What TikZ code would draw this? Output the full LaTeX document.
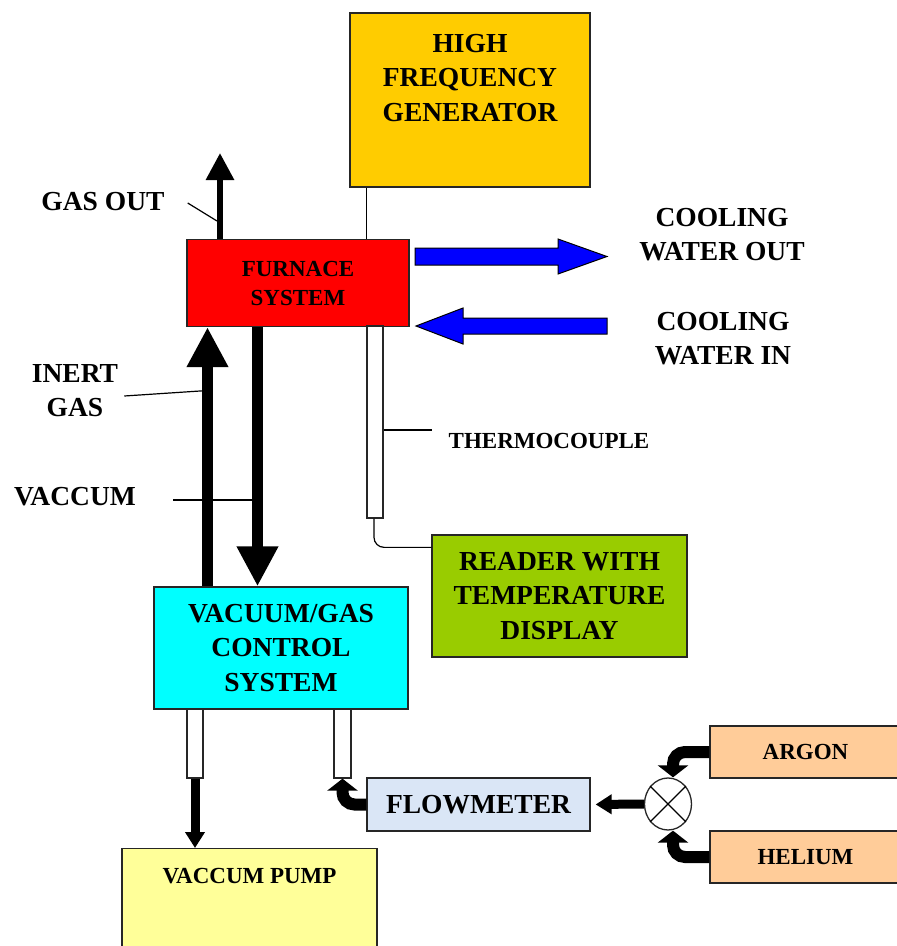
\documentclass[tikz,border=0pt]{standalone}
\usepackage{fontspec}
\setmainfont{Liberation Serif}
\usetikzlibrary{arrows.meta,shapes.geometric}

\definecolor{genyellow}{HTML}{FFCC00}
\definecolor{furnred}{HTML}{FF0000}
\definecolor{readgreen}{HTML}{99CC00}
\definecolor{vaccyan}{HTML}{00FFFF}
\definecolor{flowblue}{HTML}{DAE6F6}
\definecolor{gaspeach}{HTML}{FFCC99}
\definecolor{pumpyellow}{HTML}{FFFF99}
\definecolor{coolblue}{HTML}{0000FF}

\newcommand{\LabelBig}{\bfseries\fontsize{27.5}{34.5}\selectfont}
\newcommand{\LabelSmall}{\bfseries\fontsize{23}{29}\selectfont}

\begin{document}
\begin{tikzpicture}[x=1pt, y=-1pt,
  box/.style={draw=black!85, line width=1.3pt, inner sep=0pt},
  bigtxt/.style={font=\LabelBig, align=center, inner sep=0pt},
  smalltxt/.style={font=\LabelSmall, align=center, inner sep=0pt},
  pipe/.style={draw=black!85, line width=1.3pt, fill=white, inner sep=0pt},
  leader/.style={line width=1.2pt},
  fatarrow/.style={line width=11pt, -{Triangle[width=39pt,length=40pt]}},
  ventarrow/.style={line width=6pt, -{Triangle[width=27pt,length=27pt]}},
  feedarrow/.style={line width=12pt, rounded corners=12pt, -{Triangle[width=30pt,length=12pt]}},
  pipearrow/.style={line width=9pt, -{Triangle[width=19pt,length=16pt]}},
  coolarrow/.style={fill=coolblue, draw=black, line width=1pt}]

\useasboundingbox (0,0) rectangle (897,946);
\clip (0,0) rectangle (897,946);

% boxes
\node[box, fill=genyellow, minimum width=240, minimum height=174] (gen) at (470,100) {};
\node[bigtxt] (gentext) at (470,78) {HIGH\\FREQUENCY\\GENERATOR};
\node[box, smalltxt, fill=furnred, minimum width=222, minimum height=87] (furnace) at (298,283) {FURNACE\\SYSTEM};
\node[pipe, minimum width=16, minimum height=192] (tc) at (375,422) {};
\node[box, bigtxt, fill=readgreen, minimum width=255, minimum height=122] (reader) at (559.5,596) {READER WITH\\TEMPERATURE\\DISPLAY};
\node[box, bigtxt, fill=vaccyan, minimum width=254, minimum height=122] (vac) at (281,648) {VACUUM/GAS\\CONTROL\\SYSTEM};
\node[pipe, minimum width=16, minimum height=69] (pipeL) at (195,743.5) {};
\node[pipe, minimum width=17, minimum height=69] (pipeR) at (342.5,743.5) {};
\node[box, fill=pumpyellow, font=\LabelSmall, anchor=north, minimum width=255,
      text height=35pt, text depth=110pt] (pump) at (249.5,848) {VACCUM PUMP};
\node[box, bigtxt, fill=flowblue, minimum width=223, minimum height=53] (flow) at (478.5,804.5) {FLOWMETER};
\node[box, ellipse, fill=white, minimum width=47, minimum height=52] (valve) at (668,804) {};
\node[box, smalltxt, fill=gaspeach, minimum width=191, minimum height=52] (argon) at (805.5,752) {ARGON};
\node[box, smalltxt, fill=gaspeach, minimum width=191, minimum height=52] (helium) at (805.5,857) {HELIUM};

% labels
\node[bigtxt] (gasout) at (103,201.5) {GAS OUT};
\node[bigtxt] (inert) at (75,390.5) {INERT\\GAS};
\node[bigtxt] (vaccum) at (75,497) {VACCUM};
\node[bigtxt] (coolout) at (722,234.5) {COOLING\\WATER OUT};
\node[bigtxt] (coolin) at (723,338.5) {COOLING\\WATER IN};
\node[smalltxt] (thermo) at (549,441) {THERMOCOUPLE};

\coordinate (inX) at (207.5,0);
\coordinate (vacX) at (257.5,0);
\coordinate (gasmark) at (217,221);
\coordinate (gastop) at (220,153);

% thin lines
\draw[leader] (valve.45) -- (valve.225);
\draw[leader] (valve.135) -- (valve.315);
\draw[leader] (gen.south -| tc.west) -- (furnace.north -| tc.west);
\draw[leader] ([xshift=23pt,yshift=-1.5pt]gasout.east) -- (gasmark);
\draw[leader] ([xshift=6pt,yshift=-5.5pt]inert.east) -- (inert.east -| inX);
\draw[leader] ([xshift=37pt,yshift=-3pt]vaccum.east) -- ([xshift=-5.5pt,yshift=-3pt]vaccum.east -| vacX);
\draw[leader] (tc.east) ++(0,8) -- ++(48,0);
\draw[leader, rounded corners=10pt] ([xshift=-1pt]tc.south) |- ([yshift=-13pt]reader.north west);

% gas and vacuum lines
\draw[ventarrow] (furnace.north -| gastop) -- (gastop);
\draw[fatarrow] (vac.north -| inX) -- (furnace.south -| inX);
\draw[fatarrow] (furnace.south -| vacX) -- (vac.north -| vacX);
\draw[pipearrow] (pipeL.south) -- (pipeL.south |- pump.north);
\draw[pipearrow, shorten >=5pt] (valve.west) -- (flow.east);
\draw[feedarrow] (flow.west) -| (pipeR.south);
\draw[feedarrow] (argon.west) -| ([xshift=5pt]valve.north);
\draw[feedarrow] (helium.west) -| ([xshift=5pt]valve.south);

% cooling water
\draw[coolarrow] (415,248) -- (558,248) -- (558,239) -- (607,256.5) -- (558,274) -- (558,265) -- (415,265) -- cycle;
\draw[coolarrow] (416,326) -- (463,308) -- (463,318) -- (607,318) -- (607,334) -- (463,334) -- (463,344) -- cycle;

\end{tikzpicture}
\end{document}
